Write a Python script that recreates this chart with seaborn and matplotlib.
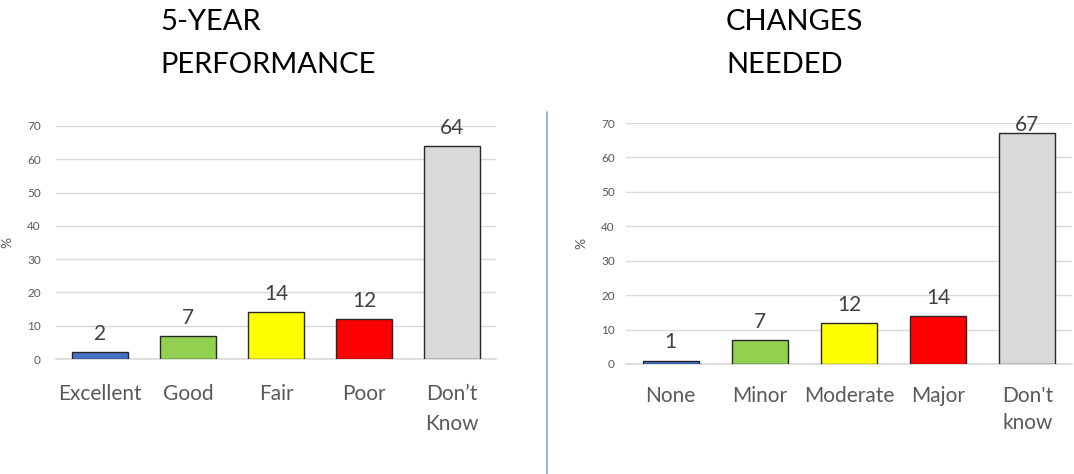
import seaborn as sns
import pandas as pd
import matplotlib.pyplot as plt
from matplotlib.lines import Line2D

# data
perf_labels = ["Excellent", "Good", "Fair", "Poor", "Don’t\nKnow"]
perf_values = [2, 7, 14, 12, 64]
change_labels = ["None", "Minor", "Moderate", "Major", "Don't\nknow"]
change_values = [1, 7, 12, 14, 67]
bar_colors = ["#4472c4", "#92d050", "#ffff00", "#ff0000", "#d9d9d9"]
y_ticks = [0, 10, 20, 30, 40, 50, 60, 70]

sns.set_style("white")
plt.rcParams["font.family"] = ["Lato", "DejaVu Sans"]

W, H = 1074, 474
fig = plt.figure(figsize=(W / 100, H / 100), dpi=100)


def draw_panel(rect, labels, values, title, title_x, ytick_pad, xtick_pad, line_sp, ylabel_x):
    ax = fig.add_axes(rect)
    df = pd.DataFrame({"cat": labels, "pct": values})
    sns.barplot(data=df, x="cat", y="pct", hue="cat", palette=bar_colors,
                saturation=1, legend=False, width=0.63, edgecolor="#262626",
                linewidth=1, ax=ax, zorder=3)
    ax.set_ylim(0, 70)
    ax.set_yticks(y_ticks)
    ax.grid(axis="y", color="#d9d9d9", linewidth=1, zorder=0)
    for s in ["top", "right", "left"]:
        ax.spines[s].set_visible(False)
    ax.spines["bottom"].set_color("#d9d9d9")
    ax.spines["bottom"].set_linewidth(1.2)
    ax.tick_params(axis="y", length=0, pad=ytick_pad, labelsize=8.5, labelcolor="#595959")
    ax.tick_params(axis="x", length=0, pad=xtick_pad, labelsize=15, labelcolor="#595959")
    for t in ax.get_xticklabels():
        t.set_linespacing(line_sp)
    ax.set_xlabel("")
    ax.set_ylabel("%", fontsize=10, color="#595959")
    ax.yaxis.set_label_coords(ylabel_x, 0.5)

    # value labels, kept inside the chart area near the top
    ax_h_pts = rect[3] * H * 0.72
    for p, v in zip(ax.patches, values):
        room = (1 - v / 70) * ax_h_pts + 5 - 11
        pad = max(0.5, min(8.7, room))
        ax.annotate(str(v), (p.get_x() + p.get_width() / 2, v),
                    xytext=(0, pad), textcoords="offset points",
                    ha="center", va="baseline", fontsize=15, color="#404040",
                    annotation_clip=False, zorder=4)

    fig.text(title_x, 1 - 9 / H, title, ha="left", va="top", fontsize=21,
             linespacing=1.8, color="black")
    return ax


draw_panel([56 / W, 1 - 359 / H, 440 / W, 233 / H], perf_labels, perf_values,
           "5-YEAR\nPERFORMANCE", 160 / W, 11, 18, 1.6, -43 / 440)
draw_panel([626 / W, 1 - 364 / H, 446 / W, 241 / H], change_labels, change_values,
           "CHANGES\nNEEDED", 726 / W, 8, 16, 1.45, -39 / 446)

fig.add_artist(Line2D([547 / W, 547 / W], [0, 1 - 112 / H], transform=fig.transFigure,
                      color="#8faadc", linewidth=1.3))

fig.savefig("out.png", dpi=100)
